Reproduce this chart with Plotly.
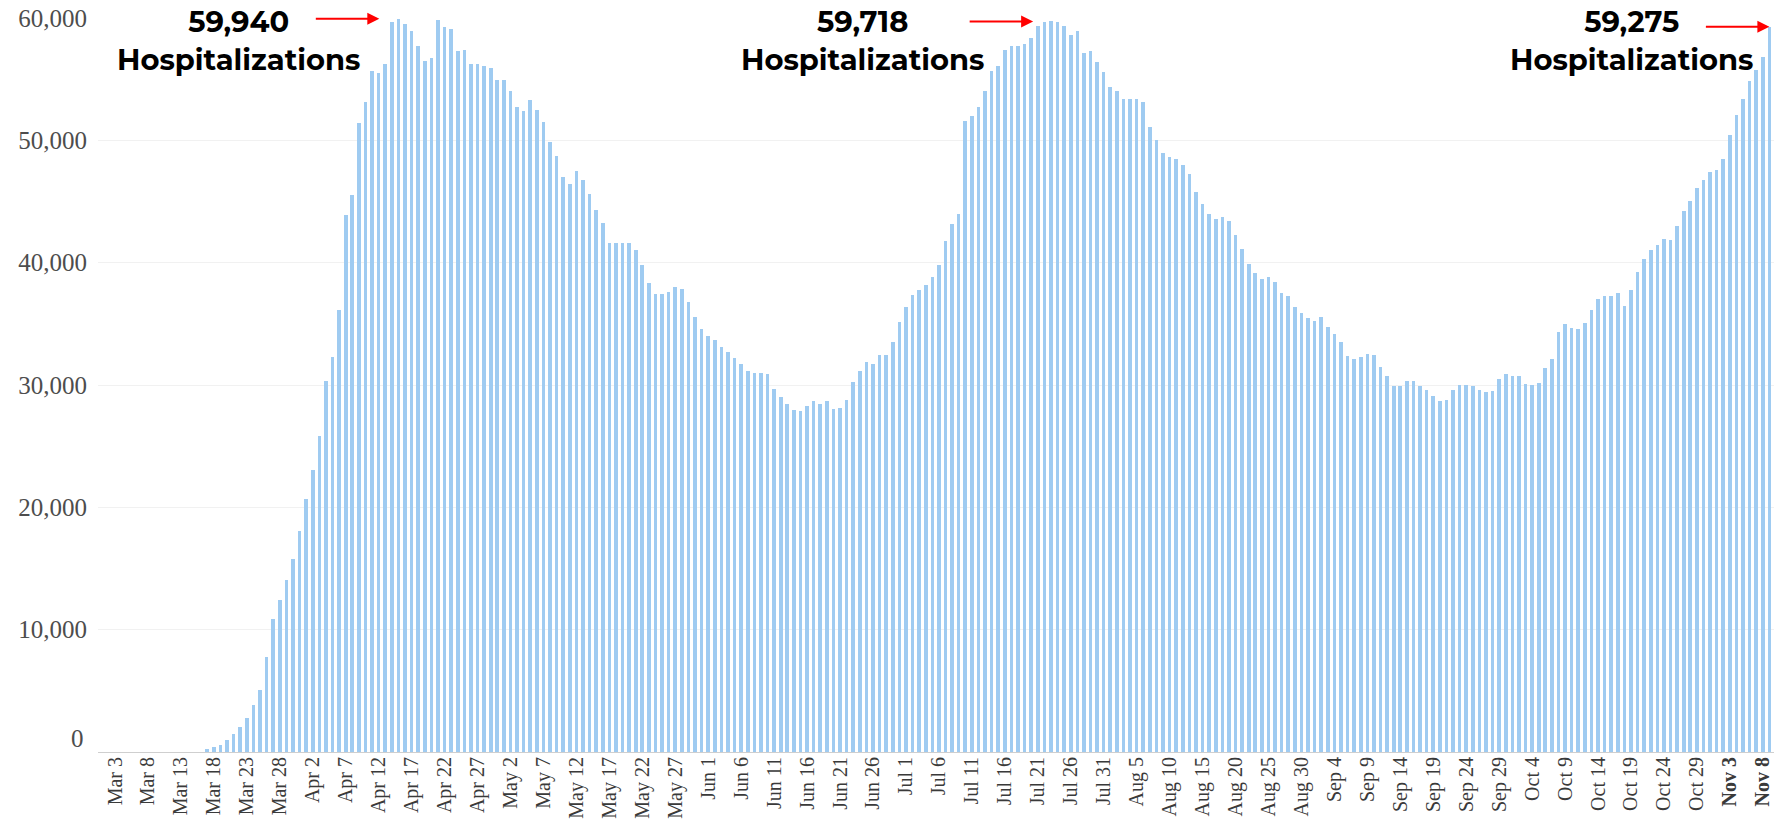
import pandas as pd
import plotly.graph_objects as go

# ---- data -------------------------------------------------------------
dates = [d.strftime("%b ") + str(d.day) for d in pd.date_range("2020-03-03", "2020-11-09")]

hospitalized = [
    # Mar 3 - Mar 16
    0, 0, 0, 0, 0, 0, 0, 0, 0, 0, 0, 0, 0, 0,
    # Mar 17 - Mar 31
    270, 410, 600, 1000, 1500, 2040, 2780, 3870, 5040, 7770, 10900, 12400, 14030, 15800, 18070,
    # Apr 1 - Apr 30
    20710, 23030, 25830, 30330, 32280, 36160, 43900, 45550, 51400, 53150,
    55650, 55500, 56250, 59650, 59940, 59510, 58910, 57740, 56520, 56710,
    59840, 59240, 59080, 57280, 57420, 56250, 56250, 56110, 55920, 54940,
    # May 1 - May 31
    54940, 54020, 52710, 52360, 53310, 52520, 51490, 49850, 48680, 47000,
    46400, 47460, 46730, 45640, 44330, 43240, 41610, 41610, 41610, 41610,
    41010, 39840, 38340, 37470, 37450, 37600, 38040, 37850, 36820, 35540, 34590,
    # Jun 1 - Jun 30
    34020, 33690, 33090, 32660, 32190, 31730, 31160, 31000, 31000, 30860,
    29640, 29010, 28470, 27920, 27870, 28280, 28660, 28470, 28660, 28030,
    28140, 28790, 30230, 31160, 31870, 31730, 32490, 32490, 33530, 35130,
    # Jul 1 - Jul 31
    36360, 37380, 37730, 38160, 38790, 39800, 41790, 43140, 44010, 51620,
    51950, 52760, 54020, 55650, 56110, 57420, 57740, 57740, 57880, 58340,
    59370, 59700, 59718, 59690, 59370, 58640, 58910, 57140, 57280, 56380, 55620,
    # Aug 1 - Aug 31
    54400, 54020, 53390, 53390, 53390, 53120, 51130, 49990, 48960, 48630,
    48490, 48000, 47270, 45770, 44770, 44010, 43540, 43730, 43410, 42300,
    41100, 39890, 39130, 38640, 38860, 38400, 37500, 37310, 36410, 35870, 35460,
    # Sep 1 - Sep 30
    35270, 35540, 34780, 34180, 33550, 32380, 32110, 32270, 32550, 32440,
    31510, 30750, 29940, 29940, 30340, 30340, 29880, 29610, 29120, 28660,
    28800, 29560, 30020, 30020, 29880, 29560, 29420, 29540, 30460, 30900,
    # Oct 1 - Oct 31
    30760, 30730, 30080, 30000, 30130, 31360, 32090, 34350, 34950, 34620,
    34540, 35080, 36120, 37020, 37290, 37290, 37480, 36440, 37750, 39250,
    40280, 41010, 41480, 41940, 41830, 42970, 44200, 45040, 46100, 46730, 47410,
    # Nov 1 - Nov 9
    47540, 48490, 50450, 52080, 53390, 54890, 55780, 56790, 59275,
]

tick_labels = dates[::5]
tick_text = ["<b>" + t + "</b>" if t in ("Nov 3", "Nov 8") else t for t in tick_labels]

y_ticks = [10000, 20000, 30000, 40000, 50000, 60000]

peaks = [  # (date, value, label)
    ("Apr 15", 59940, "59,940"),
    ("Jul 23", 59718, "59,718"),
    ("Nov 9", 59275, "59,275"),
]
arrow_offsets = [-2.9, -2.7, 0.0]     # arrow tip, in bar units relative to the peak bar
text_shifts = [-160, -188, -138]      # label centre, pixels relative to the peak bar

# ---- figure -----------------------------------------------------------
fig = go.Figure()
fig.add_trace(go.Bar(
    x=dates, y=hospitalized,
    marker=dict(color="#9fcbf1", line=dict(width=0)),
    width=0.55,
    hoverinfo="x+y",
))

serif = "Liberation Serif, Times New Roman, serif"
label_font = dict(family="Montserrat, Inter, Open Sans, sans-serif", size=29, color="#000000")

annotations = []
for (d, v, txt), off, sh in zip(peaks, arrow_offsets, text_shifts):
    idx = dates.index(d)
    annotations.append(dict(
        x=idx + off, y=v, xref="x", yref="y",
        ax=-65, ay=0, axref="pixel", ayref="pixel",
        showarrow=True, arrowhead=2, arrowsize=1.2, arrowwidth=2, arrowcolor="#ff0000",
        text="",
    ))
    annotations.append(dict(
        x=idx, y=1, xref="x", yref="paper",
        xshift=sh, yshift=-22, xanchor="center", yanchor="middle",
        showarrow=False, align="center",
        text="<b>" + txt + "</b><br><b>Hospitalizations</b>",
        font=label_font,
    ))
# zero label sits a little above the baseline in the original
annotations.append(dict(
    x=0, y=0, xref="paper", yref="y", xanchor="right", yanchor="middle",
    xshift=-12, yshift=14, showarrow=False, text="0",
    font=dict(family=serif, size=25, color="#4d4d4d"),
))

fig.update_layout(
    width=1779, height=820,
    margin=dict(l=98, r=5, t=17.5, b=68),
    paper_bgcolor="white", plot_bgcolor="white",
    showlegend=False,
    bargap=0,
    annotations=annotations,
)
fig.update_xaxes(
    type="category",
    range=[-2.58, 251.7],
    tickmode="array", tickvals=tick_labels, ticktext=tick_text,
    tickangle=-90,
    tickfont=dict(family=serif, size=20, color="#3a3a3a"),
    showgrid=False, showline=False, ticks="",
    automargin=False,
)
fig.update_yaxes(
    range=[0, 60000],
    tickmode="array", tickvals=y_ticks, tickformat=",",
    tickfont=dict(family=serif, size=25, color="#4d4d4d"),
    showgrid=True, gridcolor="#f1f1f1", gridwidth=1,
    zeroline=True, zerolinecolor="#cfcfcf", zerolinewidth=1,
    showline=False, ticks="", ticklabelstandoff=10,
    automargin=False,
)

fig.write_html(
    "out.html",
    config={"displayModeBar": False},
    post_script="document.body.style.margin='0';document.body.style.padding='0';"
                "document.body.style.overflow='hidden';",
)
